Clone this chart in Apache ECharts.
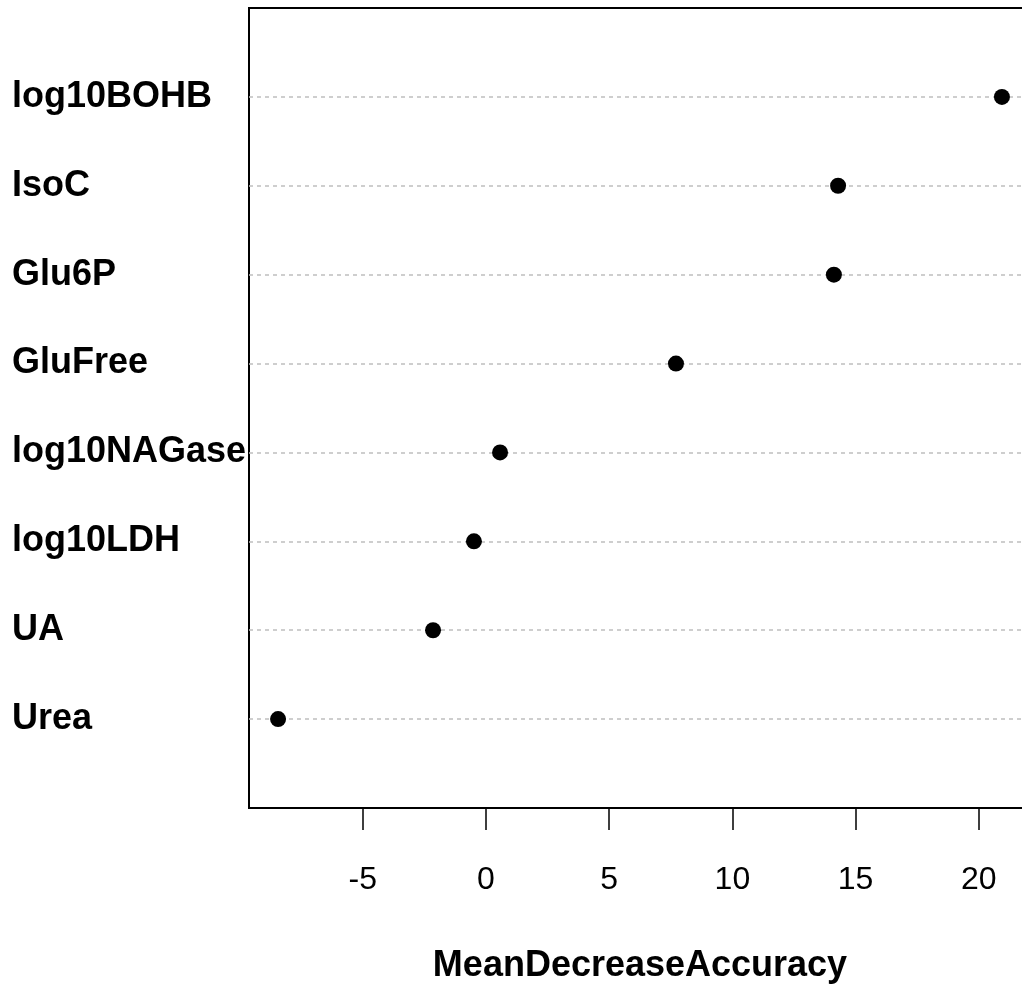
<!DOCTYPE html>
<html>
<head>
<meta charset="utf-8">
<script src="https://cdn.jsdelivr.net/npm/echarts@6/dist/echarts.min.js"></script>
<style>
  html, body { margin: 0; padding: 0; background: #fff; }
  #chart { width: 1022px; height: 984px; }
</style>
</head>
<body>
<div id="chart"></div>
<script>
// variables, top to bottom as in the plot
const variables = ['log10BOHB', 'IsoC', 'Glu6P', 'GluFree', 'log10NAGase', 'log10LDH', 'UA', 'Urea'];
const meanDecreaseAccuracy = [20.94, 14.29, 14.12, 7.71, 0.57, -0.49, -2.15, -8.44];
const xTicks = [-5, 0, 5, 10, 15, 20];

const n = variables.length;
// row position: bottom row = 1, top row = n (like R dotchart)
const rowPos = variables.map((v, i) => n - i);
const points = meanDecreaseAccuracy.map((v, i) => [v, rowPos[i]]);

const chart = echarts.init(document.getElementById('chart'));
const font = 'Liberation Sans, Arial, sans-serif';

const option = {
  backgroundColor: '#fff',
  animation: false,
  grid: {
    left: 249,
    top: 8,
    bottom: 176,
    width: 782,
    outerBoundsMode: 'none',
    show: true,
    borderColor: '#000',
    borderWidth: 2,
    backgroundColor: 'transparent'
  },
  xAxis: {
    type: 'value',
    min: -9.62,
    max: 22.12,
    name: 'MeanDecreaseAccuracy',
    nameLocation: 'middle',
    nameGap: 140,
    nameTextStyle: { fontFamily: font, fontWeight: 'bold', fontSize: 36, color: '#000' },
    axisLine: { show: true, onZero: false, lineStyle: { color: '#000', width: 2 } },
    axisTick: { show: true, length: 22, customValues: xTicks, lineStyle: { color: '#000', width: 1.5 } },
    axisLabel: { customValues: xTicks, margin: 56, fontFamily: font, fontSize: 32, color: '#000' },
    splitLine: { show: false }
  },
  yAxis: {
    type: 'value',
    min: 0,
    max: n + 1,
    axisLine: { show: false },
    axisTick: { show: false },
    splitLine: { show: false },
    axisLabel: {
      customValues: rowPos,
      align: 'left',
      margin: 237,
      padding: [12, 0, 0, 0],
      fontFamily: font,
      fontWeight: 'bold',
      fontSize: 36,
      color: '#000',
      formatter: function (val) {
        const i = rowPos.indexOf(val);
        return i >= 0 ? variables[i] : '';
      }
    }
  },
  series: [
    {
      type: 'scatter',
      data: points,
      symbol: 'circle',
      symbolSize: 16,
      z: 10,
      itemStyle: { color: '#000', opacity: 1 },
      markLine: {
        silent: true,
        symbol: ['none', 'none'],
        label: { show: false },
        lineStyle: { color: '#bebebe', type: [4, 4], width: 1.5 },
        data: rowPos.map(p => ({ yAxis: p }))
      }
    }
  ]
};

chart.setOption(option);
</script>
</body>
</html>
